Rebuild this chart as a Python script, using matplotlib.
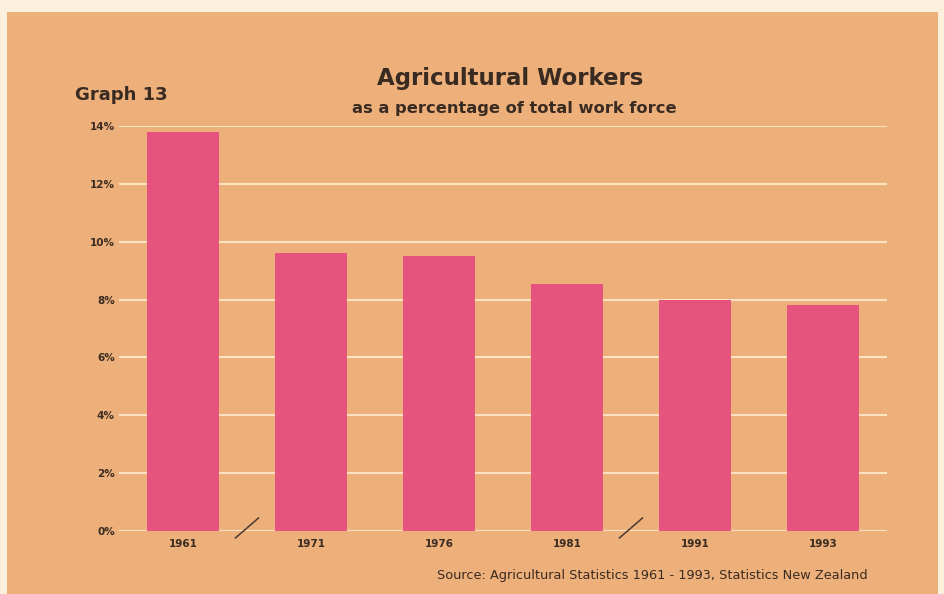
import matplotlib.pyplot as plt
from matplotlib.patches import Rectangle

years = ["1961", "1971", "1976", "1981", "1991", "1993"]
share = [13.8, 9.6, 9.5, 8.55, 8.0, 7.8]
yticks = [0, 2, 4, 6, 8, 10, 12, 14]
breaks = [0.5, 3.5]

W, H = 945, 594
paper = "#fbf0dc"
panel = "#eeb07a"
bar_col = "#e6537f"
grid_col = "#fae2c2"
ink = "#3a2b22"
font = "DejaVu Sans"

fig = plt.figure(figsize=(W / 100, H / 100), dpi=100, facecolor=paper)

def fx(px):
    return px / W

def fy(py):
    return 1 - py / H

# peach card behind everything
fig.patches.append(Rectangle((fx(7), 0), fx(938) - fx(7), fy(12), transform=fig.transFigure,
                             facecolor=panel, edgecolor="none", zorder=-10))

ax = fig.add_axes([fx(119), fy(531), fx(887) - fx(119), fy(126) - fy(531)])
ax.set_facecolor("none")
x = range(len(years))
ax.bar(x, share, width=0.56, color=bar_col, zorder=3)
ax.set_xlim(-0.5, len(years) - 0.5)
ax.set_ylim(0, 14)

for v in yticks:
    ax.axhline(v, color=grid_col, lw=1.5, zorder=1)

ax.set_yticks(yticks)
ax.set_yticklabels([f"{v}%" for v in yticks], fontsize=7.5, fontweight="bold",
                   color=ink, family=font)
ax.set_xticks(list(x))
ax.set_xticklabels(years, fontsize=7.5, fontweight="bold", color=ink, family=font)
ax.tick_params(length=0, pad=3)
ax.tick_params(axis="x", pad=6)
for s in ax.spines.values():
    s.set_visible(False)

# axis break marks
for b in breaks:
    ax.plot([b - 0.09, b + 0.09], [-0.24, 0.45], color="#4a3a30", lw=1.1,
            clip_on=False, zorder=4)

fig.text(fx(75), fy(95), "Graph 13", fontsize=13, fontweight="bold", color=ink,
         family=font, ha="left", va="center")
fig.text(fx(510), fy(79), "Agricultural Workers", fontsize=16.5, fontweight="bold",
         color=ink, family=font, ha="center", va="center")
fig.text(fx(514), fy(109), "as a percentage of total work force", fontsize=11.7,
         fontweight="bold", color=ink, family=font, ha="center", va="center")
fig.text(fx(868), fy(576), "Source: Agricultural Statistics 1961 - 1993, Statistics New Zealand",
         fontsize=9.3, color=ink, family=font, ha="right", va="center")

fig.savefig("out.png", dpi=100, facecolor=paper)
